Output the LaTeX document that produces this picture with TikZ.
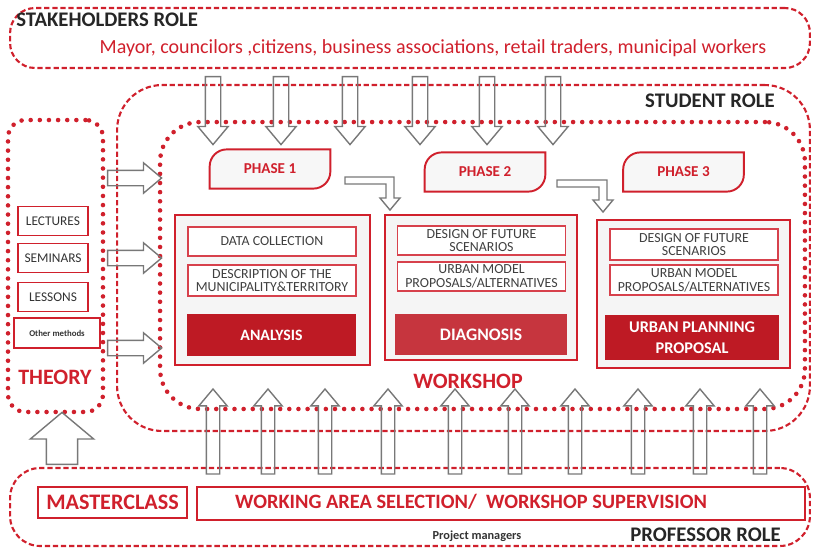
\documentclass[tikz,border=0pt]{standalone}
\usepackage{fontspec}
\setmainfont{Carlito}
\usetikzlibrary{arrows.meta,shapes.arrows}

\definecolor{rolered}{RGB}{208,32,44}
\definecolor{boxred}{RGB}{190,26,36}
\definecolor{arrowgray}{RGB}{120,120,120}

\tikzset{
  fsz/.style={node font=\fontsize{#1}{#1}\selectfont},
  dashedrole/.style={draw=rolered, line width=1.2pt, dash pattern=on 3pt off 1.6pt},
  dottedrole/.style={draw=rolered, line width=2.6pt, line cap=round,
    dash pattern=on 0pt off 5.2pt},
  rolelabel/.style={fsz=11.8, font=\bfseries, text=black!85},
  redtitle/.style={fsz=12.5, font=\bfseries, text=rolered},
  phasebox/.style={draw=rolered, line width=1.1pt, fill=black!4},
  itembox/.style={draw=rolered!85, line width=0.9pt, fill=white, fsz=7.9,
    text=black!75, align=center, inner sep=1pt, minimum width=3.36cm},
  resultbox/.style={fill=boxred, text=white, fsz=9, font=\bfseries,
    align=center, inner sep=1pt},
  methodbox/.style={draw=rolered, line width=1pt, fill=white, fsz=7.6,
    text=black!80, minimum width=1.4cm, minimum height=0.58cm, inner sep=0pt},
  blockarrow/.style={single arrow, draw=arrowgray, line width=0.8pt,
    inner xsep=0pt, inner ysep=0.14cm, single arrow head extend=0.15cm,
    single arrow tip angle=80},
}

\begin{document}
\begin{tikzpicture}[x=0.02cm, y=-0.02cm]
  \useasboundingbox (0,0) rectangle (818,549);

  % role containers
  \node[dashedrole, rounded corners=0.5cm, minimum width=16cm,
    minimum height=1.2cm] (stake) at (410,38) {};
  \node[dashedrole, rounded corners=0.9cm, minimum width=13.86cm,
    minimum height=6.92cm] (student) at (463.5,258) {};
  \node[dottedrole, rounded corners=0.8cm, minimum width=12.9cm,
    minimum height=5.74cm] (workshop) at (482.5,265.5) {};
  \node[dottedrole, rounded corners=0.35cm, minimum width=1.9cm,
    minimum height=5.84cm] (theory) at (55.5,266) {};
  \node[dashedrole, rounded corners=0.6cm, minimum width=16cm,
    minimum height=1.56cm] (prof) at (410,507) {};

  \node[rolelabel, anchor=west] (stakelbl) at (9,20) {STAKEHOLDERS ROLE};
  \node[fsz=11.4, text=rolered] (actors) at (433,48)
    {Mayor, councilors ,citizens, business associations, retail traders, municipal workers};
  \node[rolelabel, anchor=east] (studlbl) at (782,101) {STUDENT ROLE};
  \node[rolelabel, anchor=east] (proflbl) at (788,535) {PROFESSOR ROLE};
  \node[fsz=7, font=\bfseries, text=black!80] (managers) at (477,536) {Project managers};
  \node[redtitle] (wslbl) at (468,381) {WORKSHOP};
  \node[redtitle] (thlbl) at (55,377) {THEORY};

  % theory methods
  \node[methodbox] (lect) at (53,221) {LECTURES};
  \node[methodbox] (semi) at (53,258) {SEMINARS};
  \node[methodbox] (less) at (53,297) {LESSONS};
  \node[methodbox, line width=1.6pt, minimum width=1.72cm, minimum height=0.6cm,
    fsz=5, font=\bfseries] (other) at (57,333) {Other methods};

  % professor tasks
  \node[draw=rolered, line width=1pt, minimum width=2.98cm, minimum height=0.62cm,
    fsz=12.6, font=\bfseries, text=rolered] (master) at (112.5,502.5) {MASTERCLASS};
  \node[draw=rolered, line width=1pt, minimum width=12.16cm, minimum height=0.66cm]
    (supervision) at (501,503.5) {};
  \node[fsz=11.6, font=\bfseries, text=rolered] (supervlbl) at (471,502)
    {WORKING AREA SELECTION/\ \ WORKSHOP SUPERVISION};

  % phase tabs
  \foreach \n/\x/\y in {1/270/169, 2/485/172, 3/683.5/172} {
    \node[minimum width=2.4cm, minimum height=0.77cm] (ph\n) at (\x,\y) {};
    \draw[phasebox, fill=black!3] (ph\n.south west) [rounded corners=0.34cm]
      -- (ph\n.north west) [sharp corners] -- (ph\n.north east)
      [rounded corners=0.34cm] -- (ph\n.south east) [sharp corners] -- cycle;
    \node[fsz=8.6, font=\bfseries, text=rolered] (ph\n lbl) at (ph\n) {PHASE \n};
  }

  % phase 1: analysis
  \node[phasebox, minimum width=3.9cm, minimum height=3cm] (box1) at (272.5,290) {};
  \node[itembox, minimum height=0.58cm] (data) at (272,241.5) {DATA COLLECTION};
  \node[itembox, minimum height=0.62cm] (descr) at (272,280.5)
    {DESCRIPTION OF THE\\MUNICIPALITY\&TERRITORY};
  \node[resultbox, minimum width=3.38cm, minimum height=0.84cm] (analysis)
    at (271.5,335) {ANALYSIS};

  % phase 2: diagnosis
  \node[phasebox, minimum width=3.84cm, minimum height=2.9cm] (box2) at (481,287.5) {};
  \node[itembox, minimum height=0.58cm] (design2) at (481.5,240.5)
    {DESIGN OF FUTURE\\SCENARIOS};
  \node[itembox, minimum height=0.58cm] (model2) at (481.5,276.5)
    {URBAN MODEL\\PROPOSALS/ALTERNATIVES};
  \node[resultbox, fill=boxred!88!white, fsz=10, minimum width=3.44cm,
    minimum height=0.82cm] (diagnosis) at (481,334.5) {DIAGNOSIS};

  % phase 3: proposal
  \node[phasebox, minimum width=3.86cm, minimum height=2.96cm] (box3) at (693.5,294) {};
  \node[itembox, minimum height=0.62cm] (design3) at (694,244.5)
    {DESIGN OF FUTURE\\SCENARIOS};
  \node[itembox, minimum height=0.6cm] (model3) at (694,280)
    {URBAN MODEL\\PROPOSALS/ALTERNATIVES};
  \node[resultbox, fsz=9.3, minimum width=3.48cm, minimum height=0.9cm] (proposal)
    at (692,337.5) {URBAN PLANNING\\[3pt]PROPOSAL};

  % stakeholders feed the student role
  \foreach \x [count=\i] in {213,281,350,420,487,553}
    \node[blockarrow, rotate=-90, minimum height=1.36cm] (down\i) at (\x,106) {};

  % professors supervise the workshop
  \foreach \x [count=\i] in {213,268,325,388,455,515,575,638,700,760}
    \node[blockarrow, rotate=90, inner ysep=0.12cm, minimum height=1.7cm]
      (up\i) at (\x,435.5) {};

  % theory into the workshop
  \foreach \y [count=\i] in {178,258,348}
    \node[blockarrow, minimum height=1.08cm] (right\i) at (130,\y) {};

  % masterclass into theory
  \node[blockarrow, rotate=90, inner ysep=0.3cm, minimum height=1.04cm,
    single arrow head extend=0.32cm, single arrow tip angle=100] (mcup) at (62,445) {};

  % phase to phase
  \draw[arrowgray, line width=0.8pt] (345,177) -- (394,177) -- (394,198)
    -- (400,198) -- (390,210) -- (380,198) -- (386,198) -- (386,184)
    -- (345,184) -- cycle;
  \draw[arrowgray, line width=0.8pt] (557,180) -- (607,180) -- (607,200)
    -- (613,200) -- (603,212) -- (593,200) -- (599,200) -- (599,187)
    -- (557,187) -- cycle;
\end{tikzpicture}
\end{document}
